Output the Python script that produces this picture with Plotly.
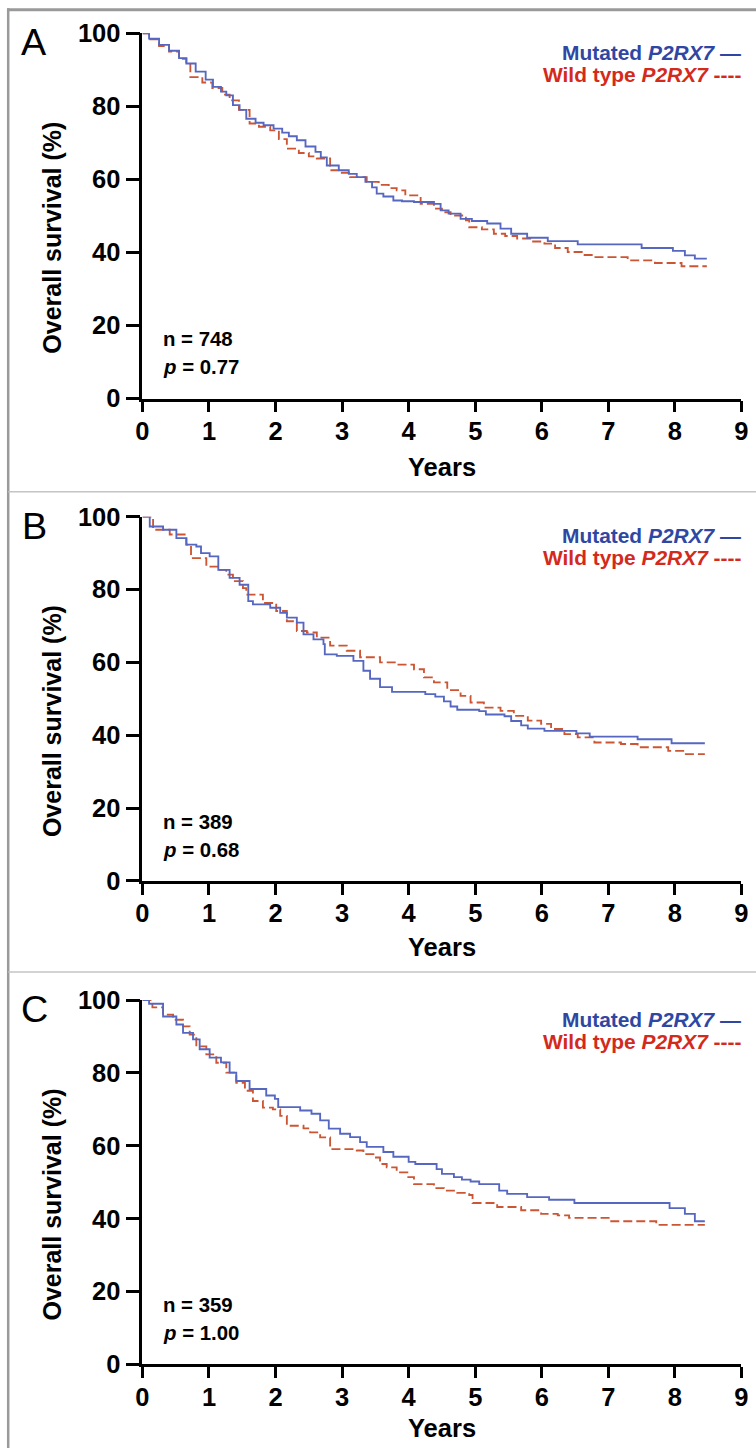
import plotly.graph_objects as go

# ---------------- data ----------------
a_mut_t = [0, 0.1, 0.25, 0.4, 0.55, 0.66, 0.8, 0.95, 1.06, 1.18, 1.26, 1.36, 1.46, 1.56, 1.7, 1.82, 1.97, 2.1, 2.2, 2.32, 2.45, 2.6, 2.68, 2.77, 2.95, 3.1, 3.22, 3.35, 3.45, 3.52, 3.62, 3.77, 3.9, 4.08, 4.38, 4.48, 4.6, 4.78, 4.95, 5.18, 5.38, 5.54, 5.78, 6.09, 6.54, 7.50, 7.97, 8.15, 8.30, 8.48]
a_mut_s = [100, 98.5, 96.8, 95.2, 93.2, 91.7, 89.5, 87.3, 85.3, 84.0, 83.0, 80.3, 79.0, 76.6, 75.5, 74.8, 73.9, 72.8, 71.8, 70.7, 69.0, 67.5, 66.0, 63.8, 62.5, 61.5, 60.6, 59.3, 57.8, 56.1, 55.3, 54.2, 54.0, 53.8, 53.3, 51.5, 50.6, 49.2, 48.6, 47.9, 46.5, 45.1, 44.0, 43.1, 42.2, 41.2, 40.4, 39.2, 38.3, 38.3]
a_wt_t = [0, 0.1, 0.25, 0.4, 0.55, 0.66, 0.72, 0.9, 1.05, 1.2, 1.31, 1.45, 1.61, 1.75, 1.92, 2.05, 2.17, 2.35, 2.5, 2.62, 2.82, 2.95, 3.12, 3.37, 3.55, 3.7, 3.82, 3.95, 4.18, 4.38, 4.5, 4.63, 4.86, 4.91, 5.1, 5.28, 5.45, 5.63, 5.85, 6.04, 6.2, 6.39, 6.6, 6.79, 7.29, 7.70, 8.10, 8.48]
a_wt_s = [100, 98.3, 96.5, 95.0, 93.0, 91.5, 88.0, 86.5, 85.0, 83.2, 81.6, 79.0, 75.3, 74.4, 73.4, 71.0, 68.4, 67.2, 66.3, 65.7, 62.5, 61.8, 60.6, 59.3, 58.5, 57.6, 57.0, 55.6, 53.3, 52.0, 51.0, 50.1, 48.8, 46.9, 46.3, 45.1, 44.5, 43.8, 43.0, 42.4, 41.2, 40.1, 39.3, 38.7, 37.8, 37.1, 36.2, 36.2]

b_mut_t = [0, 0.11, 0.31, 0.51, 0.66, 0.81, 0.88, 1.01, 1.14, 1.31, 1.46, 1.59, 1.66, 1.92, 2.07, 2.17, 2.32, 2.42, 2.57, 2.72, 2.74, 2.92, 3.17, 3.32, 3.42, 3.57, 3.75, 4.25, 4.40, 4.53, 4.63, 4.73, 5.06, 5.16, 5.44, 5.54, 5.69, 5.79, 6.04, 6.52, 6.72, 7.44, 7.95, 8.45]
b_mut_s = [100, 97.3, 96.4, 94.1, 92.3, 91.8, 90.0, 89.1, 85.4, 83.2, 81.3, 76.8, 75.9, 75.0, 73.6, 72.3, 70.9, 67.7, 66.3, 65.0, 62.2, 61.8, 60.4, 57.7, 55.5, 53.2, 51.9, 51.3, 50.6, 49.3, 47.9, 47.0, 46.6, 45.7, 45.2, 43.9, 42.7, 41.8, 41.2, 40.5, 39.6, 38.9, 37.8, 37.8]
b_wt_t = [0, 0.16, 0.41, 0.66, 0.73, 0.96, 1.16, 1.26, 1.36, 1.51, 1.56, 1.81, 2.01, 2.17, 2.32, 2.47, 2.62, 2.82, 3.07, 3.27, 3.57, 3.82, 4.08, 4.23, 4.38, 4.58, 4.78, 4.93, 5.13, 5.38, 5.58, 5.79, 5.99, 6.14, 6.34, 6.54, 6.79, 7.19, 7.44, 7.90, 8.15, 8.45]
b_wt_s = [100, 96.4, 95.1, 92.3, 88.6, 86.3, 85.4, 84.1, 82.3, 80.4, 78.6, 76.3, 74.1, 71.3, 68.6, 68.2, 66.8, 64.6, 63.2, 61.4, 60.0, 59.4, 58.1, 55.9, 54.5, 52.4, 50.8, 49.0, 47.6, 46.7, 45.3, 44.0, 43.1, 41.7, 40.3, 39.4, 38.0, 37.6, 36.7, 35.7, 34.8, 34.8]

c_mut_t = [0, 0.1, 0.31, 0.51, 0.61, 0.76, 0.86, 1.01, 1.18, 1.31, 1.41, 1.61, 1.86, 1.99, 2.04, 2.37, 2.54, 2.67, 2.80, 2.97, 3.12, 3.27, 3.37, 3.62, 3.77, 4.00, 4.10, 4.42, 4.50, 4.68, 4.80, 4.93, 5.06, 5.36, 5.48, 5.78, 6.11, 6.49, 7.92, 8.15, 8.30, 8.45]
c_mut_s = [100, 99, 95.5, 93.3, 91.0, 89.2, 86.5, 84.2, 82.9, 80.1, 77.8, 75.6, 73.8, 72.9, 70.6, 69.7, 68.8, 67.0, 64.7, 63.3, 62.4, 61.0, 59.7, 58.3, 57.0, 55.6, 55.0, 53.6, 52.3, 51.4, 50.7, 50.2, 49.5, 47.7, 46.8, 45.9, 45.2, 44.3, 42.9, 41.3, 39.3, 39.3]
c_wt_t = [0, 0.15, 0.31, 0.46, 0.61, 0.71, 0.81, 0.96, 1.11, 1.26, 1.41, 1.54, 1.66, 1.81, 1.96, 2.07, 2.17, 2.42, 2.52, 2.67, 2.82, 3.22, 3.32, 3.47, 3.57, 3.67, 3.82, 3.98, 4.08, 4.38, 4.53, 4.73, 4.91, 4.96, 5.33, 5.69, 5.99, 6.24, 6.41, 7.02, 7.72, 8.45]
c_wt_s = [100, 98, 96.0, 94.6, 92.8, 90.5, 87.3, 85.1, 82.8, 80.1, 77.3, 75.1, 72.3, 70.5, 70.0, 68.2, 65.5, 64.8, 63.7, 62.3, 59.1, 58.7, 57.7, 56.8, 55.0, 54.1, 52.7, 51.4, 49.5, 48.4, 47.7, 47.1, 46.5, 44.3, 43.2, 42.3, 41.3, 40.9, 40.2, 39.3, 38.3, 38.3]

panel_letters = ["A", "B", "C"]
n_texts = ["n = 748", "n = 389", "n = 359"]
p_texts = ["0.77", "0.68", "1.00"]
x_ticks = [0, 1, 2, 3, 4, 5, 6, 7, 8, 9]
y_ticks = [0, 20, 40, 60, 80, 100]

# ---------------- styling ----------------
# the photographed page comes out scaled by ~0.98 and offset; compensate so
# positions below can be given in target-picture pixels
S, OX, OY = 0.98, 7.8, 13.8
W, H = 764, 1464
FONT = "Liberation Sans, Arial, sans-serif"
BLUE_LINE = "#5567c0"
RED_LINE = "#cc5533"
BLUE_TXT = "#2f47a3"
RED_TXT = "#d42a1c"

# target-picture pixel positions of each panel (y of 100% and of 0%)
panels_px = [(33, 398), (516, 880), (999, 1363)]
years_gap = [68, 66, 64]
x0_px, x9_px = 143, 741

def px(p):
    return ((p - OX) / S) / W

def py(p):
    return 1 - ((p - OY) / S) / H

def fs(size):
    return size / S

fig = go.Figure()
series = [(a_mut_t, a_mut_s, a_wt_t, a_wt_s),
          (b_mut_t, b_mut_s, b_wt_t, b_wt_s),
          (c_mut_t, c_mut_s, c_wt_t, c_wt_s)]

def ann(**kw):
    d = dict(showarrow=False, xanchor="center", yanchor="middle")
    d.update(kw)
    return d

annotations = []
for i, (mt, ms, wt, ws) in enumerate(series):
    sfx = "" if i == 0 else str(i + 1)
    xa, ya = "x" + sfx, "y" + sfx
    fig.add_trace(go.Scatter(x=wt, y=ws, mode="lines", xaxis=xa, yaxis=ya,
                             line=dict(color=RED_LINE, width=1.85, dash="9px,4px", shape="hv"),
                             showlegend=False, hoverinfo="skip"))
    fig.add_trace(go.Scatter(x=mt, y=ms, mode="lines", xaxis=xa, yaxis=ya,
                             line=dict(color=BLUE_LINE, width=1.85, shape="hv"),
                             showlegend=False, hoverinfo="skip"))
    top, bot = panels_px[i]
    axcommon = dict(showgrid=False, zeroline=False, showline=True, linecolor="black",
                    linewidth=2.7, ticks="outside", tickcolor="black", tickwidth=2.7,
                    tickfont=dict(family=FONT, size=fs(25), color="black", weight="bold"))
    fig.update_layout(**{
        ("xaxis" + sfx): dict(domain=[px(x0_px), px(x9_px)], range=[0, 9], anchor=ya,
                              tickvals=x_ticks, ticklen=11, ticklabelstandoff=-3, **axcommon),
        ("yaxis" + sfx): dict(domain=[py(bot), py(top)], range=[0, 100], anchor=xa,
                              tickvals=y_ticks, ticklen=14, ticklabelstandoff=0, **axcommon),
    })
    # panel letter
    annotations.append(ann(text=panel_letters[i], xref="paper", yref="paper",
                           x=px(35), y=py(top + 9),
                           font=dict(family=FONT, size=fs(37), color="black")))
    # y title (rotated text renders ~16px higher than its anchor, compensate)
    annotations.append(ann(text="<b>Overall survival (%)</b>", xref="paper", yref="paper",
                           x=px(53), y=py(top + 188 + 16), textangle=-90,
                           font=dict(family=FONT, size=fs(24.5), color="black")))
    # x title
    annotations.append(ann(text="<b>Years</b>", xref="paper", yref="paper",
                           x=px(442), y=py(bot + years_gap[i]),
                           font=dict(family=FONT, size=fs(25), color="black")))
    # n and p
    annotations.append(ann(text="<b>" + n_texts[i] + "</b>", xref=xa, yref=ya,
                           x=0.28, y=16.2, xanchor="left",
                           font=dict(family=FONT, size=fs(20), color="black")))
    annotations.append(ann(text="<b><i>p</i> = " + p_texts[i] + "</b>", xref=xa, yref=ya,
                           x=0.28, y=8.5, xanchor="left",
                           font=dict(family=FONT, size=fs(20), color="black")))
    # legend texts
    annotations.append(ann(text="<b>Mutated <i>P2RX7</i> —</b>", xref="paper", yref="paper",
                           x=px(743), y=py(top + 19), xanchor="right",
                           font=dict(family=FONT, size=fs(20.5), color=BLUE_TXT)))
    annotations.append(ann(text="<b>Wild type <i>P2RX7</i> ----</b>", xref="paper", yref="paper",
                           x=px(743), y=py(top + 41), xanchor="right",
                           font=dict(family=FONT, size=fs(20.5), color=RED_TXT)))

shapes = [
    dict(type="line", xref="paper", yref="paper", x0=px(8), x1=1, y0=py(9.5), y1=py(9.5),
         line=dict(color="#9a9a9a", width=3)),
    dict(type="line", xref="paper", yref="paper", x0=px(9), x1=px(9), y0=py(8), y1=0,
         line=dict(color="#9a9a9a", width=2.5)),
    dict(type="line", xref="paper", yref="paper", x0=px(9), x1=1, y0=py(491), y1=py(491),
         line=dict(color="#c4c4c4", width=1.5)),
    dict(type="line", xref="paper", yref="paper", x0=px(9), x1=1, y0=py(971), y1=py(971),
         line=dict(color="#c4c4c4", width=1.5)),
]

fig.update_layout(width=W, height=H, margin=dict(l=0, r=0, t=0, b=0),
                  paper_bgcolor="white", plot_bgcolor="white",
                  annotations=annotations, shapes=shapes, showlegend=False,
                  font=dict(family=FONT))

fig.write_html("out.html")
